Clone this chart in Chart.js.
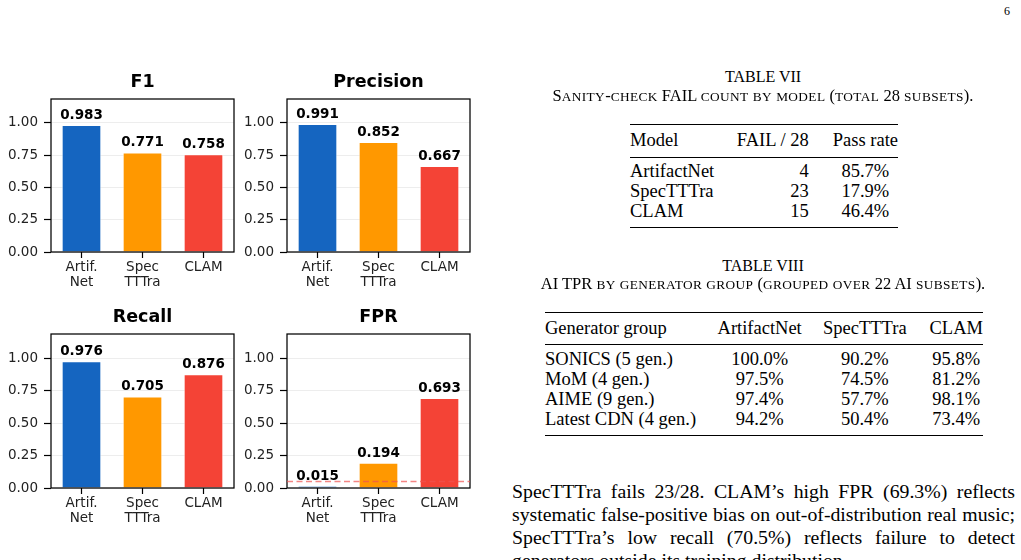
<!DOCTYPE html>
<html>
<head>
<meta charset="utf-8">
<script src="https://cdn.jsdelivr.net/npm/chart.js@4.4.1/dist/chart.umd.min.js"></script>
<style>
  html, body { margin: 0; padding: 0; background: #fff; }
  body { width: 1021px; height: 560px; overflow: hidden; position: relative; font-family: "Liberation Serif", serif; color: #000; }
  .plot { position: absolute; }
  .abs { position: absolute; }
  .cap1 { font-size: 16px; text-align: center; line-height: 18px; }
  .cap2 { font-size: 16.5px; text-align: center; white-space: nowrap; line-height: 18px; }
  .cap2 .sc { font-size: 13.3px; letter-spacing: 0.4px; }
  table { border-collapse: collapse; font-size: 18.5px; position: absolute; border-top: 1.5px solid #000; border-bottom: 1.5px solid #000; }
  td, th { padding: 0; line-height: 20px; font-weight: normal; white-space: nowrap; }
  thead th { border-bottom: 0.8px solid #000; }
  .pl { font-size: 19.8px; line-height: 23px; height: 23px; white-space: nowrap; }
  .pl.j { text-align: justify; text-align-last: justify; white-space: normal; }
</style>
</head>
<body>
<div class="abs" style="left:1004px;top:4px;font-size:12px;">6</div>

<canvas id="c1" class="plot" style="left:0px;top:60px" width="240" height="240"></canvas>
<canvas id="c2" class="plot" style="left:236px;top:60px" width="240" height="240"></canvas>
<canvas id="c3" class="plot" style="left:0px;top:295px" width="240" height="241"></canvas>
<canvas id="c4" class="plot" style="left:236px;top:295px" width="240" height="241"></canvas>

<div class="abs cap1" style="left:563px;top:68px;width:400px;">TABLE VII</div>
<div class="abs cap2" id="cap7" style="left:463px;top:87px;width:600px;"></div>
<table id="t7" style="left:630px;top:124px;width:268px;">
  <thead><tr>
    <th style="text-align:left;width:104px;padding:5px 0 7px;">Model</th>
    <th style="text-align:right;width:75px;padding:5px 0 7px;">FAIL / 28</th>
    <th style="text-align:center;width:65px;padding:5px 0 7px 24px;">Pass rate</th>
  </tr></thead>
  <tbody id="t7body"></tbody>
</table>

<div class="abs cap1" style="left:563px;top:257px;width:400px;">TABLE VIII</div>
<div class="abs cap2" id="cap8" style="left:463px;top:275px;width:600px;"></div>
<table id="t8" style="left:545px;top:312px;width:438px;">
  <thead><tr>
    <th style="text-align:left;width:165px;padding:5px 0 6px;">Generator group</th>
    <th style="text-align:center;width:102px;padding:5px 0 6px;">ArtifactNet</th>
    <th style="text-align:center;width:111px;padding:5px 10px 6px 0;">SpecTTTra</th>
    <th style="text-align:center;width:50px;padding:5px 0 6px;">CLAM</th>
  </tr></thead>
  <tbody id="t8body"></tbody>
</table>

<div class="abs" style="left:512px;top:480px;width:503px;">
  <div class="pl j">SpecTTTra fails 23/28. CLAM’s high FPR (69.3%) reflects</div>
  <div class="pl j">systematic false-positive bias on out-of-distribution real music;</div>
  <div class="pl j">SpecTTTra’s low recall (70.5%) reflects failure to detect</div>
  <div class="pl">generators outside its training distribution.</div>
</div>

<script>
// chart data
const models = [['Artif.', 'Net'], ['Spec', 'TTTra'], 'CLAM'];
const f1 = [0.983, 0.771, 0.758];
const precision = [0.991, 0.852, 0.667];
const recall = [0.976, 0.705, 0.876];
const fpr = [0.015, 0.194, 0.693];
const yTicks = [0, 0.25, 0.5, 0.75, 1.0];
const fprThreshold = 0.05;
const barColors = ['#1565C0', '#FF9800', '#F44336'];

// table data
const t7Models = ['ArtifactNet', 'SpecTTTra', 'CLAM'];
const t7Fail = [4, 23, 15];
const t7Pass = ['85.7%', '17.9%', '46.4%'];
const t8Groups = ['SONICS (5 gen.)', 'MoM (4 gen.)', 'AIME (9 gen.)', 'Latest CDN (4 gen.)'];
const t8Artifact = ['100.0%', '97.5%', '97.4%', '94.2%'];
const t8Spec = ['90.2%', '74.5%', '57.7%', '50.4%'];
const t8Clam = ['95.8%', '81.2%', '98.1%', '73.4%'];

// lower case letters become small capitals
function smallCaps(s) {
  return s.replace(/[a-z]+/g, m => '<span class="sc">' + m.toUpperCase() + '</span>');
}
document.getElementById('cap7').innerHTML = smallCaps('Sanity-check FAIL count by model (total 28 subsets).');
document.getElementById('cap8').innerHTML = smallCaps('AI TPR by generator group (grouped over 22 AI subsets).');

function rowPad(i, n, top) {
  let t = i === 0 ? top : 0;
  let b = i === n - 1 ? 6 : 0;
  return t + 'px 0 ' + b + 'px';
}

let h = '';
t7Models.forEach((m, i) => {
  const p = rowPad(i, t7Models.length, 3);
  h += '<tr><td style="padding:' + p + '">' + m + '</td>' +
       '<td style="text-align:right;padding:' + p + '">' + t7Fail[i] + '</td>' +
       '<td style="text-align:center;padding:' + p + ';padding-left:24px">' + t7Pass[i] + '</td></tr>';
});
document.getElementById('t7body').innerHTML = h;

h = '';
t8Groups.forEach((g, i) => {
  const p = rowPad(i, t8Groups.length, 4);
  h += '<tr><td style="padding:' + p + '">' + g + '</td>' +
       '<td style="text-align:center;padding:' + p + '">' + t8Artifact[i] + '</td>' +
       '<td style="text-align:center;padding:' + p + ';padding-right:10px">' + t8Spec[i] + '</td>' +
       '<td style="text-align:center;padding:' + p + '">' + t8Clam[i] + '</td></tr>';
});
document.getElementById('t8body').innerHTML = h;

const FONT = "'DejaVu Sans', sans-serif";

// box round the plot area + title centred on it
const framePlugin = {
  id: 'frame',
  afterDatasetsDraw(chart) {
    const a = chart.chartArea, ctx = chart.ctx;
    ctx.save();
    ctx.strokeStyle = '#000';
    ctx.lineWidth = 1.25;
    ctx.strokeRect(a.left, a.top, a.right - a.left, a.bottom - a.top);
    ctx.font = 'bold 17.5px ' + FONT;
    ctx.fillStyle = '#000';
    ctx.textAlign = 'center';
    ctx.textBaseline = 'alphabetic';
    ctx.fillText(chart.options.plotTitle, (a.left + a.right) / 2, a.top - 12);
    ctx.restore();
  }
};

// numbers above bars
const valuePlugin = {
  id: 'values',
  afterDraw(chart) {
    const ctx = chart.ctx;
    const meta = chart.getDatasetMeta(0);
    const vals = chart.data.datasets[0].data;
    ctx.save();
    ctx.font = 'bold 13.5px ' + FONT;
    ctx.fillStyle = '#000';
    ctx.textAlign = 'center';
    ctx.textBaseline = 'bottom';
    meta.data.forEach((bar, i) => {
      ctx.fillText(vals[i].toFixed(3), bar.x, bar.y - 3);
    });
    ctx.restore();
  }
};

// dashed reference line for FPR
const thresholdPlugin = {
  id: 'threshold',
  afterDatasetsDraw(chart) {
    const a = chart.chartArea, ctx = chart.ctx;
    const y = chart.scales.y.getPixelForValue(fprThreshold);
    ctx.save();
    ctx.strokeStyle = 'rgba(239,83,80,0.7)';
    ctx.lineWidth = 1.3;
    ctx.setLineDash([6, 3.5]);
    ctx.beginPath();
    ctx.moveTo(a.left, y);
    ctx.lineTo(a.right, y);
    ctx.stroke();
    ctx.restore();
  }
};

function makeChart(id, title, values, extra) {
  const plugins = [framePlugin, valuePlugin];
  if (extra) plugins.push(extra);
  new Chart(document.getElementById(id), {
    type: 'bar',
    data: {
      labels: models,
      datasets: [{
        data: values,
        backgroundColor: barColors,
        borderColor: 'rgba(255,255,255,0.55)',
        borderWidth: 1,
        barPercentage: 1,
        categoryPercentage: 0.65
      }]
    },
    options: {
      plotTitle: title,
      responsive: false,
      animation: false,
      layout: { padding: { left: 0, right: 6, top: 39, bottom: 0 } },
      plugins: {
        legend: { display: false },
        tooltip: { enabled: false },
        title: { display: false }
      },
      scales: {
        x: {
          grid: { display: true, drawOnChartArea: false, drawTicks: true, tickLength: 6, tickColor: '#000', tickWidth: 1.2, offset: false },
          border: { display: false },
          ticks: { color: '#222', padding: 2, font: { family: FONT, size: 13.5, lineHeight: 1.12 }, maxRotation: 0, autoSkip: false },
          afterFit(s) { s.height = 48; }
        },
        y: {
          min: 0,
          max: 1.185,
          grid: { color: 'rgba(0,0,0,0.07)', drawTicks: true, tickLength: 7, tickColor: '#000', tickWidth: 1.2 },
          border: { display: false },
          afterBuildTicks(s) { s.ticks = yTicks.map(v => ({ value: v })); },
          ticks: {
            color: '#222',
            padding: 6,
            font: { family: FONT, size: 13.5 },
            callback: v => Number(v).toFixed(2)
          },
          afterFit(s) { s.width = 51; }
        }
      }
    },
    plugins: plugins
  });
}

makeChart('c1', 'F1', f1);
makeChart('c2', 'Precision', precision);
makeChart('c3', 'Recall', recall);
makeChart('c4', 'FPR', fpr, thresholdPlugin);
</script>
</body>
</html>
